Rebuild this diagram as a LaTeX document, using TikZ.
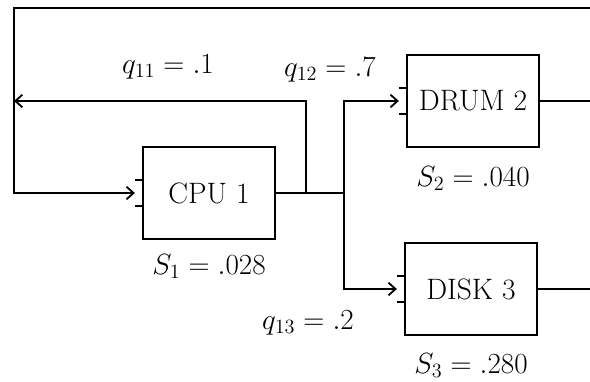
\documentclass[tikz,border=0pt]{standalone}
\usetikzlibrary{positioning,arrows.meta}
\begin{document}
\begin{tikzpicture}[x=0.025cm,y=-0.025cm,line width=1.3pt]
\tikzset{station/.style={draw,minimum width=3.3cm,minimum height=2.3cm,font=\fontsize{21}{24}\selectfont,inner sep=0pt}}
\tikzset{lbl/.style={font=\fontsize{22}{24}\selectfont,inner sep=1pt}}
\tikzset{flow/.style={-{Straight Barb[length=5pt,width=9pt]}}}
\useasboundingbox (0,0) rectangle (590,381);
% stations
\node[station] (cpu) at (209,193) {CPU 1};
\node[station] (drum) at (473,101) {DRUM 2};
\node[station] (disk) at (471,289) {DISK 3};
% service times
\node[lbl,below=3mm of cpu] (s1) {$S_1 = .028$};
\node[lbl,below=4mm of drum] (s2) {$S_2 = .040$};
\node[lbl,below=3.8mm of disk] (s3) {$S_3 = .280$};
% queues in front of the stations
\foreach \st in {cpu,drum,disk} {
  \draw ([yshift=3.2mm]\st.west) -- ++(-1.8mm,0);
  \draw ([yshift=-3.2mm]\st.west) -- ++(-1.8mm,0);
  \coordinate (\st q) at ([xshift=-1.8mm]\st.west);
}
% corners of the outer loop
\coordinate (tl) at (14,8);
\coordinate (tr) at (590,8);
\coordinate (fbl) at (14,101);
\coordinate (fb) at ([xshift=0.75cm]cpu.east);
\coordinate (br) at ([xshift=1.7cm]cpu.east);
% connectors
\draw (cpu.east) -- (br);
\draw[flow] (br) |- (drumq);
\draw[flow] (br) |- (diskq);
\draw[flow] (fb) |- (fbl);
\draw[flow] (tr) -- (tl) |- (cpuq);
\draw (drum.east) -- (drum.east -| tr);
\draw (disk.east) -- (disk.east -| tr);
% routing probabilities
\node[lbl] (q11) at (168,67) {$q_{11} = .1$};
\node[lbl] (q12) at (330,70) {$q_{12} = .7$};
\node[lbl] (q13) at (308,323) {$q_{13} = .2$};
\end{tikzpicture}
\end{document}
